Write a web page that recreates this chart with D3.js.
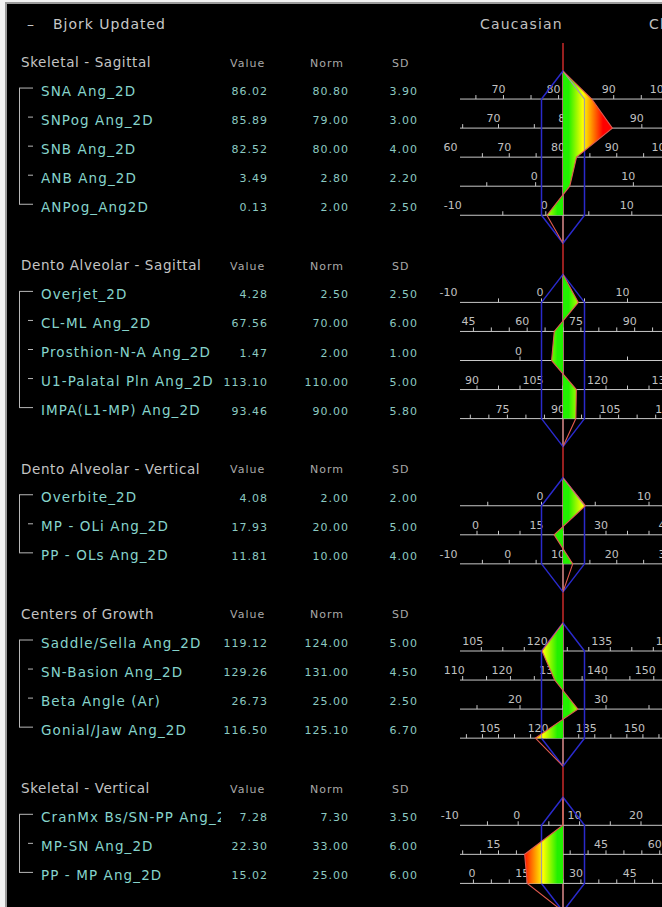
<!DOCTYPE html>
<html>
<head>
<meta charset="utf-8">
<script src="https://cdn.jsdelivr.net/npm/d3@7"></script>
<style>
  body { margin: 0; background: #f2f2f2; }
  svg { display: block; font-family: 'DejaVu Sans', sans-serif; }
</style>
</head>
<body>
<script>
const width = 662;
const height = 907;

// data
const groups = ['Skeletal - Sagittal', 'Dento Alveolar - Sagittal', 'Dento Alveolar - Vertical', 'Centers of Growth', 'Skeletal - Vertical'];
const groupSizes = [5, 5, 3, 4, 3];
const measures = [
  'SNA Ang_2D', 'SNPog Ang_2D', 'SNB Ang_2D', 'ANB Ang_2D', 'ANPog_Ang2D',
  'Overjet_2D', 'CL-ML Ang_2D', 'Prosthion-N-A Ang_2D', 'U1-Palatal Pln Ang_2D', 'IMPA(L1-MP) Ang_2D',
  'Overbite_2D', 'MP - OLi Ang_2D', 'PP - OLs Ang_2D',
  'Saddle/Sella Ang_2D', 'SN-Basion Ang_2D', 'Beta Angle (Ar)', 'Gonial/Jaw Ang_2D',
  'CranMx Bs/SN-PP Ang_2D', 'MP-SN Ang_2D', 'PP - MP Ang_2D'
];
const values = [86.02, 85.89, 82.52, 3.49, 0.13, 4.28, 67.56, 1.47, 113.10, 93.46, 4.08, 17.93, 11.81, 119.12, 129.26, 26.73, 116.50, 7.28, 22.30, 15.02];
const norms = [80.80, 79.00, 80.00, 2.80, 2.00, 2.50, 70.00, 2.00, 110.00, 90.00, 2.00, 20.00, 10.00, 124.00, 131.00, 25.00, 125.10, 7.30, 33.00, 25.00];
const sds = [3.90, 3.00, 4.00, 2.20, 2.50, 2.50, 6.00, 1.00, 5.00, 5.80, 2.00, 5.00, 4.00, 5.00, 4.50, 2.50, 6.70, 3.50, 6.00, 6.00];
const labelSteps = [10, 10, 10, 10, 10, 10, 15, 10, 15, 15, 10, 15, 10, 15, 10, 10, 15, 10, 15, 15];
const columnHeads = ['Value', 'Norm', 'SD'];
const title = 'Bjork Updated';
const populations = ['Caucasian', 'Chinese'];

const cx = 563;      // norm axis
const sdPx = 21.5;   // pixels per SD
const rulerX0 = 460;
const fmt = d3.format('.2f');

// row layout: header + rows + blank line per group
const rowY = d3.scaleLinear().domain([0, 28]).range([62, 62 + 28 * 29.05]);
let idx = 0, m = 0;
const layout = groups.map((g, gi) => {
  const head = idx;
  const rows = [];
  for (let k = 0; k < groupSizes[gi]; k++) rows.push({ i: m++, r: head + 1 + k });
  idx = head + groupSizes[gi] + 2;
  return { name: g, head, rows };
});

const svg = d3.select('body').append('svg').attr('width', width).attr('height', height);

const defs = svg.append('defs');
const grad = defs.append('linearGradient').attr('id', 'sdgrad')
  .attr('gradientUnits', 'userSpaceOnUse').attr('x1', cx - 40).attr('x2', cx + 40).attr('y1', 0).attr('y2', 0);
[[0, '#ff0000'], [0.25, '#ffff00'], [0.43, '#22f000'], [0.57, '#22f000'], [0.75, '#ffff00'], [1, '#ff0000']]
  .forEach(([o, c]) => grad.append('stop').attr('offset', o).attr('stop-color', c));
defs.append('clipPath').attr('id', 'labelclip').append('rect').attr('x', 0).attr('y', 0).attr('width', 221).attr('height', height);

svg.append('rect').attr('x', 6).attr('y', 3).attr('width', 700).attr('height', 950)
  .attr('fill', '#000').attr('stroke', '#9a9a9a').attr('stroke-width', 2);

// title row
svg.append('text').attr('x', 27).attr('y', 29).attr('fill', '#c8c8c8').attr('font-size', 14).text('–');
svg.append('text').attr('x', 53).attr('y', 29).attr('fill', '#c8c8c8').attr('font-size', 14)
  .attr('letter-spacing', 1).text(title);
svg.selectAll('.pop').data(populations).enter().append('text')
  .attr('x', (d, i) => i ? 649 : 480).attr('y', 29).attr('fill', '#c0c0c0').attr('font-size', 14)
  .attr('letter-spacing', 1.2).text(d => d);

const headX = [230, 310, 392];
const numX = [268, 349, 418];
const chart = svg.append('g');

// red norm line through everything
chart.append('line').attr('x1', cx).attr('x2', cx).attr('y1', 43).attr('y2', height)
  .attr('stroke', '#e83030').attr('stroke-width', 1.3);

layout.forEach((g, gi) => {
  const gy = rowY(g.head);
  svg.append('text').attr('x', 21).attr('y', gy + 5).attr('fill', '#c4c4c4')
    .attr('font-size', 13.5).attr('letter-spacing', 0.6).text(g.name);
  svg.selectAll(null).data(columnHeads).enter().append('text')
    .attr('x', (d, i) => headX[i]).attr('y', gy + 4.5).attr('fill', '#a8a8a8')
    .attr('font-size', 11).attr('letter-spacing', 1).text(d => d);

  // bracket
  const yTop = rowY(g.rows[0].r) - 3;
  const yBot = rowY(g.rows[g.rows.length - 1].r) - 3;
  const br = svg.append('g').attr('stroke', '#b8b8b8').attr('stroke-width', 1);
  br.append('line').attr('x1', 19.5).attr('x2', 19.5).attr('y1', yTop).attr('y2', yBot);
  g.rows.forEach((row, k) => {
    const y = rowY(row.r) - 3;
    const first = k === 0 || k === g.rows.length - 1;
    br.append('line').attr('x1', first ? 19 : 28).attr('x2', 33).attr('y1', y).attr('y2', y);
  });

  // labels and numbers
  g.rows.forEach(row => {
    const y = rowY(row.r);
    svg.append('text').attr('x', 41).attr('y', y + 4.5).attr('fill', '#86d4cc')
      .attr('font-size', 13.5).attr('letter-spacing', 1.1).attr('clip-path', 'url(#labelclip)')
      .text(measures[row.i]);
    [values[row.i], norms[row.i], sds[row.i]].forEach((v, j) => {
      svg.append('text').attr('x', numX[j]).attr('y', y + 4).attr('fill', '#8ccac2')
        .attr('font-size', 11).attr('letter-spacing', 1).attr('text-anchor', 'end').text(fmt(v));
    });
  });

  // rulers
  const scales = g.rows.map(row => d3.scaleLinear()
    .domain([norms[row.i] - sds[row.i], norms[row.i] + sds[row.i]])
    .range([cx - sdPx, cx + sdPx]));
  const ry = g.rows.map(row => rowY(row.r) + 8);
  g.rows.forEach((row, k) => {
    const x = scales[k];
    const y = ry[k];
    const rg = chart.append('g').attr('stroke', '#c8c8c8');
    rg.append('line').attr('x1', rulerX0).attr('x2', width).attr('y1', y).attr('y2', y);
    const lo = Math.ceil(x.invert(rulerX0) / 5) * 5;
    const hi = x.invert(width);
    const ticks = d3.range(lo, hi, 5);
    rg.selectAll(null).data(ticks).enter().append('line')
      .attr('x1', d => x(d)).attr('x2', d => x(d)).attr('y1', y).attr('y2', y - 4);
    const labs = d3.range(Math.ceil(x.invert(452) / labelSteps[row.i]) * labelSteps[row.i], hi + 20, labelSteps[row.i]);
    chart.selectAll(null).data(labs).enter().append('text')
      .attr('x', d => x(d) + 2).attr('y', y - 6).attr('text-anchor', 'end')
      .attr('fill', '#c0c0c0').attr('font-size', 11).text(d => d);
  });

  const top = ry[0] - 28;
  const bot = ry[ry.length - 1] + 28;
  const hex = [[cx, top], [cx - sdPx, ry[0]], [cx - sdPx, ry[ry.length - 1]], [cx, bot],
    [cx + sdPx, ry[ry.length - 1]], [cx + sdPx, ry[0]]];
  const hexPath = d3.line()(hex) + 'Z';

  chart.append('line').attr('x1', cx).attr('x2', cx).attr('y1', top).attr('y2', bot)
    .attr('stroke', '#b4b4b4').attr('stroke-width', 1);
  chart.append('path').attr('d', hexPath).attr('fill', 'none')
    .attr('stroke', '#2a2acc').attr('stroke-width', 1.5);

  const pts = g.rows.map((row, k) => [scales[k](values[row.i]), ry[k]]);
  const fillPts = [[cx, top]].concat(pts);
  const area = d3.area().y(d => d[1]).x0(cx).x1(d => d[0]);
  const areaPath = area(fillPts);
  defs.append('clipPath').attr('id', 'fillclip' + gi).append('path').attr('d', areaPath);

  chart.append('path').attr('d', areaPath).attr('fill', 'url(#sdgrad)');
  chart.append('path').attr('d', hexPath).attr('fill', 'none').attr('clip-path', `url(#fillclip${gi})`)
    .attr('stroke', '#a0a0a0').attr('stroke-width', 1.2);
  chart.append('path').attr('d', d3.line()([[cx, top]].concat(pts, [[cx, bot]])))
    .attr('fill', 'none').attr('stroke', '#e05a50').attr('stroke-width', 1.1);
});
</script>
</body>
</html>
